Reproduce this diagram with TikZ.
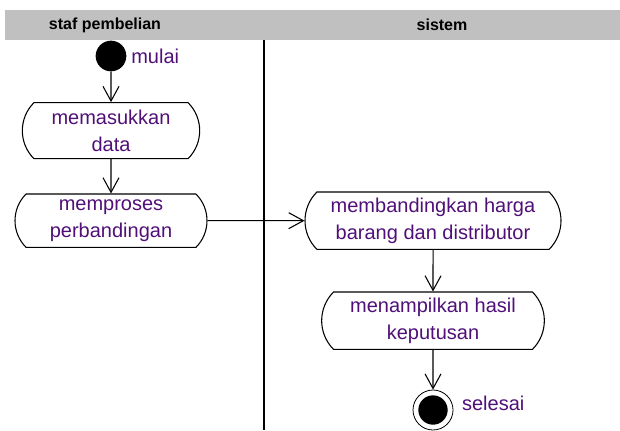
\documentclass[tikz,border=0pt]{standalone}
\usepackage{fontspec}
\setmainfont{Liberation Sans}
\usetikzlibrary{shapes.misc}
\usetikzlibrary{arrows.meta}
\definecolor{lanegray}{RGB}{192,192,192}
\definecolor{acttext}{RGB}{80,16,120}
\tikzstyle{act}=[draw,rounded rectangle,rounded rectangle arc length=90,line width=0.8pt,text=acttext,align=center,font=\fontsize{15}{20}\selectfont,inner sep=0pt]
\tikzstyle{startdot}=[circle,fill=black,minimum size=23pt,inner sep=0pt]
\tikzstyle{stopdot}=[circle,draw,line width=0.6pt,minimum size=30pt,inner sep=0pt,path picture={\fill[black] (path picture bounding box.center) circle (11pt);}]
\tikzstyle{flow}=[-{Straight Barb[length=11pt,width=12pt]},line width=0.8pt]
\tikzstyle{lbl}=[text=acttext,font=\fontsize{15}{20}\selectfont]
\tikzstyle{lane}=[font=\bfseries\fontsize{12}{14}\selectfont]

\begin{document}
\begin{tikzpicture}[x=0.75pt,y=-0.75pt,node distance=56pt]
  \useasboundingbox (0,0) rectangle (620,430);
  % swimlane header
  \fill[lanegray] (5,9.5) rectangle (620,40);
  \node [lane] (hstaf) at (105,25) {staf pembelian};
  \node [lane] (hsistem) at (442,25) {sistem};
  \draw[line width=1.1pt] (264,40) -- (264,430);
  % staf pembelian
  \node [startdot] (start) at (111,56) {};
  \node [lbl,anchor=west] (tmulai) at (start.east) {mulai};
  \node [act,minimum width=133pt,minimum height=42pt] (masuk) [below of=start] {memasukkan\\data};
  \node [act,minimum width=144pt,minimum height=40pt] (proses) [below of=masuk,node distance=67.5pt] {memproses\\perbandingan};
  % sistem
  \node [act,minimum width=192pt,minimum height=43pt] (banding) [right of=proses,node distance=241.5pt] {membandingkan harga\\barang dan distributor};
  \node [act,minimum width=167pt,minimum height=43pt] (tampil) [below of=banding,node distance=75pt] {menampilkan hasil\\keputusan};
  \node [stopdot] (stop) [below of=tampil,node distance=67pt] {};
  \node [lbl,anchor=west,xshift=3pt,yshift=5pt] (tselesai) at (stop.east) {selesai};
  % flows
  \draw[flow] (start) -- (masuk);
  \draw[flow] (masuk) -- (proses);
  \draw[flow] (proses) -- (banding);
  \draw[flow] (banding) -- (tampil);
  \draw[flow] (tampil) -- (stop);
\end{tikzpicture}
\end{document}
